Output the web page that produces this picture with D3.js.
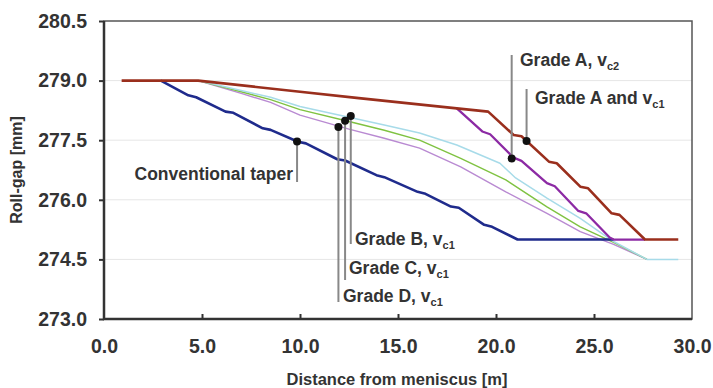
<!DOCTYPE html>
<html><head><meta charset="utf-8">
<script src="https://cdn.jsdelivr.net/npm/d3@7"></script>
<style>
body{margin:0;background:#fff;}
text{font-family:"Liberation Sans",Arial,sans-serif;font-weight:bold;fill:#333;}
</style></head>
<body><svg id="c" width="713" height="388"></svg>
<script>
// ---- data (distance from meniscus [m], roll-gap [mm]) ----
const conventional = [[2.9,279.0],[4.3,278.63],[4.7,278.58],[6.2,278.22],[6.6,278.19],[8.1,277.80],[8.5,277.76],[9.9,277.46],[10.3,277.42],[11.9,277.02],[12.3,276.99],[13.9,276.62],[14.3,276.57],[16.0,276.2],[16.4,276.15],[17.7,275.83],[18.1,275.80],[19.4,275.37],[19.8,275.32],[21.1,275.0],[26.0,275.0]];
const gradeDvc1 = [[4.8,279.0],[7.0,278.68],[8.5,278.45],[10.0,278.13],[12.5,277.78],[14.3,277.55],[16.1,277.3],[18.2,276.83],[20.5,276.2],[22.6,275.66],[24.3,275.2],[26.0,274.88],[27.7,274.5]];
const gradeCvc1 = [[4.8,279.0],[7.0,278.72],[8.5,278.52],[10.0,278.27],[12.5,277.97],[14.3,277.75],[16.1,277.5],[18.2,277.04],[20.5,276.5],[22.6,275.82],[24.3,275.32],[26.0,274.93],[27.7,274.5]];
const gradeBvc1 = [[4.8,279.0],[7.0,278.75],[8.5,278.58],[10.0,278.35],[12.5,278.08],[14.3,277.88],[16.1,277.68],[18.0,277.38],[20.2,276.92],[21.0,276.55],[22.6,276.04],[24.3,275.53],[26.0,274.95],[27.7,274.5],[29.3,274.5]];
const gradeAvc2 = [[18.0,278.3],[19.3,277.72],[19.7,277.65],[20.9,277.06],[21.3,276.98],[22.6,276.42],[23.0,276.34],[24.2,275.72],[24.6,275.66],[25.8,275.05],[26.0,275.0],[27.6,275.0]];
const gradeAvc1 = [[0.9,279.0],[4.8,279.0],[10.0,278.72],[13.0,278.56],[18.0,278.3],[19.6,278.22],[20.9,277.63],[21.3,277.6],[22.7,276.96],[23.1,276.92],[24.3,276.33],[24.7,276.29],[25.9,275.66],[26.3,275.62],[27.6,275.0],[29.3,275.0]];
const xTicks = [0,5,10,15,20,25,30];
const yTicks = [273.0,274.5,276.0,277.5,279.0,280.5];
const markers = [
  {name:"Conventional taper", x:9.85, y:277.47},
  {name:"Grade D", x:11.96, y:277.83},
  {name:"Grade C", x:12.3, y:277.99},
  {name:"Grade B", x:12.59, y:278.11},
  {name:"Grade A, vc2", x:20.8, y:277.04},
  {name:"Grade A and vc1", x:21.56, y:277.48}
];

const svg = d3.select("#c");
const L=104,R=692,T=21,B=319;
const x = d3.scaleLinear().domain([0,30]).range([L,R]);
const y = d3.scaleLinear().domain([273,280.5]).range([B,T]);

// gridlines
svg.append("g").selectAll("line").data(yTicks.slice(1,-1)).join("line")
  .attr("x1",L).attr("x2",R).attr("y1",d=>y(d)).attr("y2",d=>y(d))
  .attr("stroke","#e6e6e6").attr("stroke-width",1);

// axes
const yAxis = svg.append("g").attr("transform",`translate(${L},0)`)
  .call(d3.axisLeft(y).tickValues(yTicks).tickFormat(d3.format(".1f")).tickSize(5).tickPadding(12));
const xAxis = svg.append("g").attr("transform",`translate(0,${B})`)
  .call(d3.axisBottom(x).tickValues(xTicks).tickFormat(d3.format(".1f")).tickSizeInner(-5).tickSizeOuter(0).tickPadding(20));
[yAxis,xAxis].forEach(g=>{
  g.select(".domain").remove();
  g.selectAll(".tick line").attr("stroke","#333").attr("stroke-width",2);
  g.selectAll(".tick text").style("font-size","19.5px").attr("fill","#333");
});
xAxis.selectAll(".tick").filter(d=>d===0||d===30).select("line").remove();

// frame
svg.append("rect").attr("x",L).attr("y",T).attr("width",R-L).attr("height",B-T)
  .attr("fill","none").attr("stroke","#555").attr("stroke-width",1.5);
svg.append("path").attr("d",`M${L},${T}V${B}H${R}`).attr("fill","none").attr("stroke","#333").attr("stroke-width",2.5);

const line = d3.line().x(d=>x(d[0])).y(d=>y(d[1]));
const series = [
  {d:gradeDvc1,c:"#b98ad2",w:1.4},
  {d:gradeCvc1,c:"#7fc241",w:1.4},
  {d:gradeBvc1,c:"#a7dbe9",w:1.5},
  {d:conventional,c:"#1f2b8c",w:2.6},
  {d:gradeAvc2,c:"#8c2aa4",w:2.3},
  {d:gradeAvc1,c:"#9a2f1d",w:2.6}
];
svg.append("g").selectAll("path").data(series).join("path")
  .attr("d",s=>line(s.d)).attr("fill","none").attr("stroke",s=>s.c)
  .attr("stroke-width",s=>s.w).attr("stroke-linejoin","round");

// annotations
const lab = [
  {m:0, y2:182, tx:293, ty:180, anchor:"end", main:"Conventional taper", sub:""},
  {m:3, y2:244, tx:355, ty:245, anchor:"start", main:"Grade B, v", sub:"c1"},
  {m:2, y2:280, tx:349, ty:274, anchor:"start", main:"Grade C, v", sub:"c1"},
  {m:1, y2:302, tx:343, ty:302, anchor:"start", main:"Grade D, v", sub:"c1"},
  {m:4, y2:55, tx:520, ty:66, anchor:"start", main:"Grade A, v", sub:"c2"},
  {m:5, y2:89, tx:535, ty:104, anchor:"start", main:"Grade A and v", sub:"c1"}
];
const ag = svg.append("g");
lab.forEach(a=>{
  const mk = markers[a.m];
  const px = x(mk.x), py = y(mk.y);
  ag.append("line").attr("x1",px).attr("x2",px).attr("y1",py).attr("y2",a.y2)
    .attr("stroke","#888").attr("stroke-width",2);
  const t = ag.append("text").attr("x",a.tx).attr("y",a.ty).attr("text-anchor",a.anchor)
    .style("font-size","17.5px");
  t.append("tspan").text(a.main);
  if(a.sub) t.append("tspan").attr("dy",4).style("font-size","11px").text(a.sub);
});
ag.selectAll("circle").data(markers).join("circle")
  .attr("cx",d=>x(d.x)).attr("cy",d=>y(d.y)).attr("r",4).attr("fill","#111");

// axis titles
svg.append("text").attr("x",397).attr("y",385).attr("text-anchor","middle")
  .style("font-size","16.5px").text("Distance from meniscus [m]");
svg.append("text").attr("transform",`translate(22,${(T+B)/2}) rotate(-90)`).attr("text-anchor","middle")
  .style("font-size","16px").text("Roll-gap [mm]");
</script></body></html>
